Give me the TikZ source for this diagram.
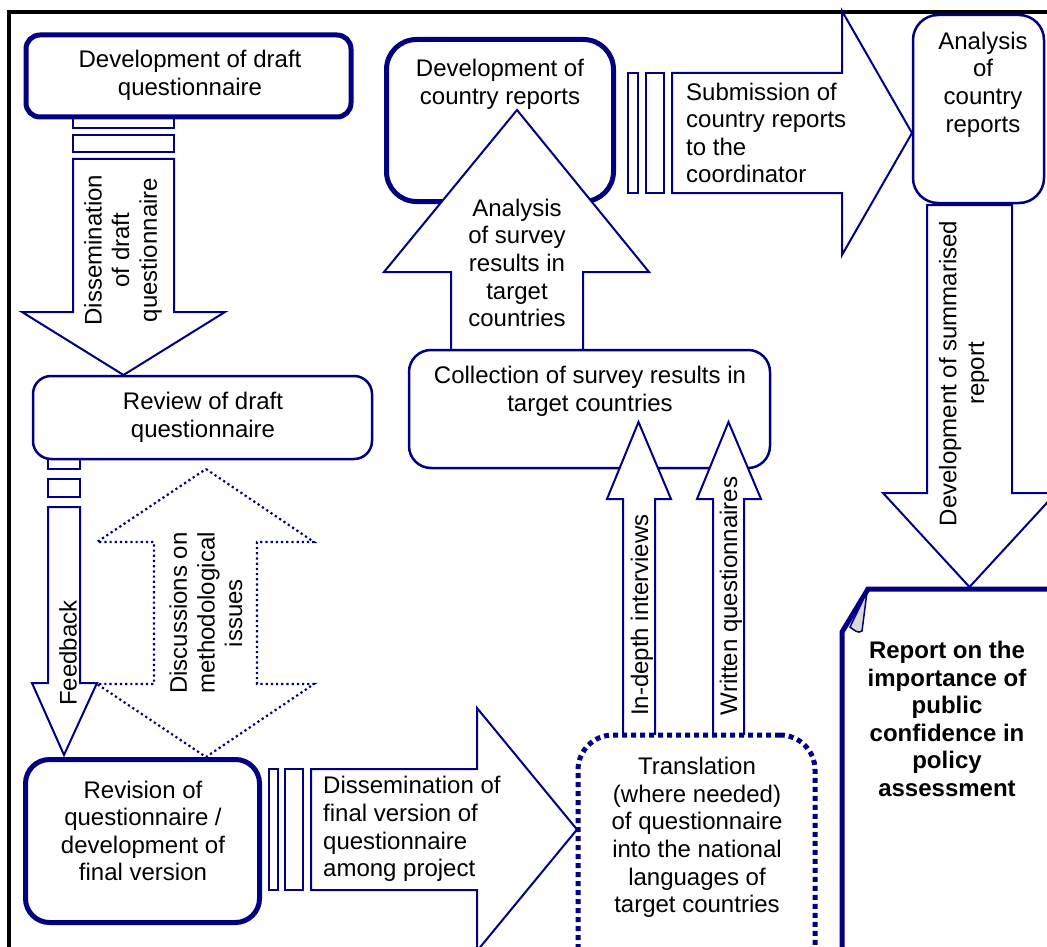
\documentclass[tikz,border=0pt]{standalone}
\usepackage{fontspec}
\setmainfont{Liberation Sans}
\definecolor{navy}{RGB}{0,0,128}
\tikzset{
 thickbox/.style={draw=navy, line width=5pt, fill=white, rectangle},
 thinbox/.style={draw=navy, line width=2.5pt, fill=white, rectangle},
 barrow/.style={draw=navy, line width=2pt, fill=white, line join=miter},
 stripe/.style={draw=navy, line width=2pt, fill=white},
 dotarrow/.style={draw=navy, line width=2.2pt, dash pattern=on 2.2pt off 3pt, line join=miter},
 dotbox/.style={draw=navy, line width=5pt, dash pattern=on 5pt off 4pt, fill=white, rectangle},
 lbl/.style={inner sep=0pt, align=center, font=\fontsize{24}{27.6}\selectfont, text=black},
 lbll/.style={inner sep=0pt, align=left, anchor=west, font=\fontsize{24}{27.6}\selectfont, text=black},
 lblb/.style={inner sep=0pt, align=center, font=\fontsize{24}{27.6}\selectfont\bfseries, text=black},
}
\begin{document}
\begin{tikzpicture}[x=1pt,y=-1pt]
\useasboundingbox (0,0) rectangle (1047,947);
\clip (0,0) rectangle (1047,947);
% frame
\draw[black, line width=4pt] (9,970) -- (9,12) -- (1070,12);

% ---- Development of draft questionnaire + dissemination arrow
\draw[stripe] (73,112) rectangle (174,128);
\draw[stripe] (73,135) rectangle (174,152);
\draw[barrow] (73,159) -- (174,159) -- (174,312) -- (225,312) -- (123.5,375) -- (22,312) -- (73,312) -- cycle;
\node[lbl, rotate=90] (tdiss) at (123,250) {Dissemination\\of draft\\questionnaire};
\node[thickbox, rounded corners=14pt, minimum width=325pt, minimum height=82pt] (A) at (188.5,76) {};
\node[lbl] (tA) at (190,75) {Development of draft\\questionnaire};

% ---- Review box, feedback arrow
\draw[stripe] (48,455) rectangle (80,469);
\draw[stripe] (48,479) rectangle (80,497);
\node[thinbox, rounded corners=18pt, minimum width=339pt, minimum height=83pt] (B) at (202.5,417.5) {};
\node[lbl] (tB) at (203,417) {Review of draft\\questionnaire};
\draw[barrow] (48,507) -- (80,507) -- (80,683) -- (97,683) -- (64,755) -- (32,683) -- (48,683) -- cycle;
\node[lbl, rotate=90] (tfeed) at (68,653) {Feedback};

% ---- Discussions dotted double arrow
\draw[dotarrow] (206,469) -- (314,542) -- (257,542) -- (257,684) -- (314,684) -- (206,757) -- (97,684) -- (154,684) -- (154,542) -- (97,542) -- cycle;
\node[lbl, rotate=90] (tdisc) at (206,613) {Discussions on\\methodological\\issues};

% ---- Revision box, dissemination final arrow
\node[thickbox, rounded corners=24pt, minimum width=234pt, minimum height=163pt] (C) at (142.5,841) {};
\node[lbl] (tC) at (143,831) {Revision of\\questionnaire /\\development of\\final version};
\draw[stripe] (269,769) rectangle (278,890);
\draw[stripe] (285,769) rectangle (303,890);
\draw[barrow] (311,769) -- (477,769) -- (477,708) -- (577,829.5) -- (477,951) -- (477,890) -- (311,890) -- cycle;
\node[lbll] (tfinal) at (323,829) {Dissemination of\\final version of\\questionnaire\\among project};

% ---- Development of country reports + analysis arrow
\node[thickbox, rounded corners=30pt, minimum width=227pt, minimum height=162pt] (D) at (500,120.5) {};
\node[lbl] (tD) at (500,84) {Development of\\country reports};
\draw[barrow] (451,352) -- (451,272) -- (384,272) -- (517,110) -- (649,272) -- (583,272) -- (583,352);
\node[lbl] (tan) at (517,263) {Analysis\\of survey\\results in\\target\\countries};

% ---- Collection box
\node[thinbox, rounded corners=22pt, minimum width=361pt, minimum height=118pt] (Coll) at (589.5,409) {};
\node[lbl] (tColl) at (590,391.5) {Collection of survey results in\\target countries};

% ---- In-depth and written arrows
\draw[barrow] (623,737) -- (623,499) -- (607,499) -- (638.5,422) -- (671,499) -- (655,499) -- (655,737);
\node[lbl, rotate=90] (tind) at (642,615) {In-depth interviews};
\draw[barrow] (713,737) -- (713,499) -- (697,499) -- (728.5,422) -- (761,499) -- (744,499) -- (744,737);
\node[lbl, rotate=90] (twri) at (731,596) {Written questionnaires};

% ---- Translation box
\node[dotbox, rounded corners=35pt, minimum width=237pt, minimum height=250pt] (T) at (696.5,860) {};
\node[lbl] (tT) at (697,837.5) {Translation\\(where needed)\\of questionnaire\\into the national\\languages of\\target countries};

% ---- Submission arrow
\draw[stripe] (628,73) rectangle (638,193);
\draw[stripe] (646,73) rectangle (664,193);
\draw[barrow] (672,73) -- (842,73) -- (842,11) -- (912,133) -- (842,255) -- (842,193) -- (672,193) -- cycle;
\node[lbll] (tsub) at (686,133) {Submission of\\country reports\\to the\\coordinator};

% ---- Analysis of country reports
\node[thinbox, rounded corners=25pt, minimum width=131pt, minimum height=188pt] (E) at (978.5,109) {};
\node[lbl] (tE) at (983,84.5) {Analysis\\of\\country\\reports};

% ---- Summarised report arrow
\draw[barrow] (927,205) -- (1012,205) -- (1012,493) -- (1056,493) -- (969.5,587) -- (883,493) -- (927,493) -- cycle;
\node[lbl, rotate=90] (tsum) at (964,373.5) {Development of summarised\\report};

% ---- Report document
\draw[draw=navy, line width=5pt, fill=white, line join=miter] (842,975) -- (842,632) -- (868,589) -- (1075,589) -- (1075,975);
\filldraw[fill=gray!30, draw=navy, line width=1.5pt] (867,592) -- (862,631) .. controls (858,634) and (854,630) .. (850,627) -- cycle;
\node[lblb] (tR) at (947,719) {Report on the\\importance of\\public\\confidence in\\policy\\assessment};
\end{tikzpicture}
\end{document}
